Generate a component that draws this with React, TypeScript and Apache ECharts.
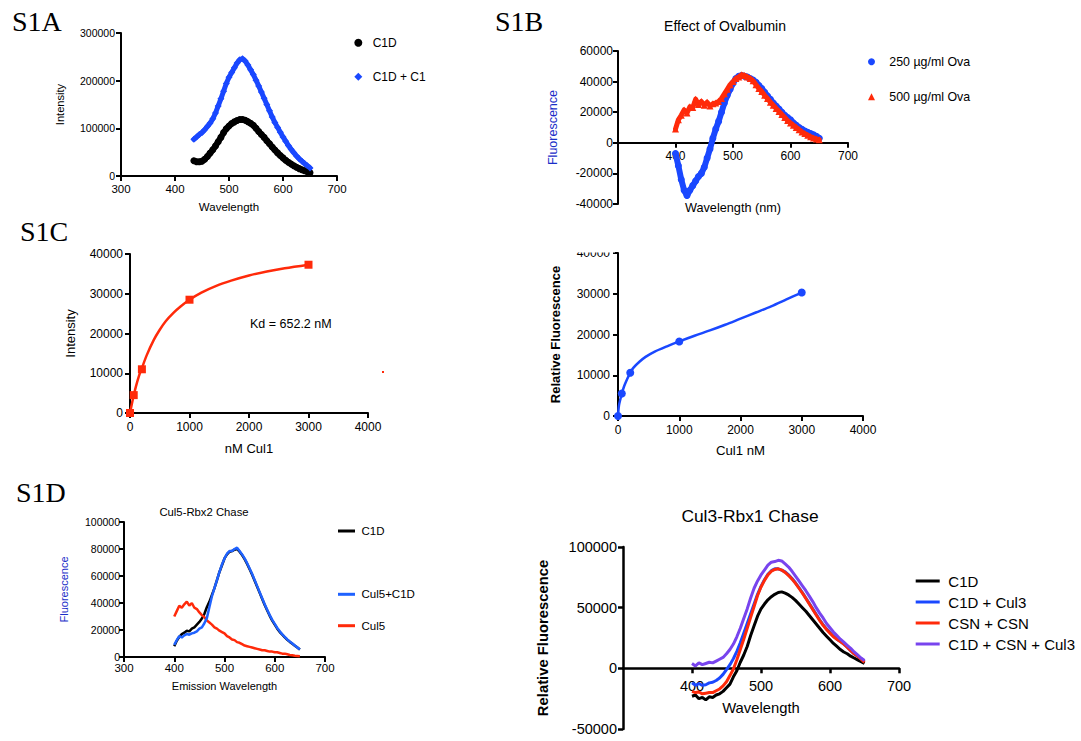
import React, { useEffect, useRef } from 'react';
import * as echarts from 'echarts';

const FONT = '"Liberation Sans", Arial, Helvetica, sans-serif';
const SERIF = '"Liberation Serif", "Times New Roman", serif';

// wavelengths (nm)
const WL = [400,405,410,415,420,425,430,435,440,445,450,455,460,465,470,475,480,485,490,495,500,505,510,515,520,525,530,535,540,545,550,555,560,565,570,575,580,585,590,595,600,605,610,615,620,625,630,635,640,645,650];
const WL_A = [435,440,445,450,455,460,465,470,475,480,485,490,495,500,505,510,515,520,525,530,535,540,545,550,555,560,565,570,575,580,585,590,595,600,605,610,615,620,625,630,635,640,645,650];

// S1A
const A_C1D = [32000,30000,30000,31000,35000,41000,48000,55000,63000,72000,
  81000,91000,99000,105000,110000,113500,116500,118500,118500,117000,
  114000,110500,106500,100000,93500,87000,81000,74000,67500,61000,
  54500,48500,43000,38000,33000,29000,25000,21500,18500,15500,
  13000,11000,9000,7000];
const A_C1D_C1 = [77000,82000,87000,91000,97000,104000,111000,120000,132000,147000,
  162000,178000,194000,207000,217000,227000,237000,244000,246000,241000,
  233000,223000,213000,201000,189000,176000,163000,150000,137000,124000,
  112000,102000,92000,82000,73000,64000,56000,49000,42000,36000,
  31000,26000,21500,17000];

// S1B
const B_OVA250 = [-7000,-15000,-24000,-31000,-34500,-31000,-28000,-25000,-22000,-20000,
  -16000,-10000,-4000,3000,9000,14000,20000,26000,31000,35000,
  39000,42000,43500,44000,43500,43000,42000,41000,39500,37500,
  35500,33000,30500,28500,26000,24000,22000,20000,18000,16500,
  15000,13000,11500,10000,8800,7700,6800,6000,5200,4200,
  3000];
const B_OVA500 = [9000,15000,18000,21500,19500,23500,23000,28500,25000,27000,
  24500,26500,24000,25500,26000,27000,29000,32000,35000,38000,
  40000,42000,43000,44500,44000,43000,42000,40500,38000,35500,
  33500,31000,29000,26500,24500,22500,20500,18500,16500,14500,
  13000,11500,10000,8500,7000,6000,5000,4000,3200,2500,
  2000];

// S1C left (Intensity vs nM Cul1)
const C_X = [0, 62.5, 200, 1000, 3000];
const C_Y = [0, 4500, 11000, 28500, 37300];
const C_FIT_X = [0,30,62.5,100,150,200,280,400,500,600,730,850,1000,1200,1450,1700,2000,2300,2600,3000];
const C_FIT_Y = [0,2200,4400,6700,9300,11300,14500,18400,20950,23100,25200,26800,28500,30300,32000,33300,34600,35600,36400,37300];

// S1C right (Relative Fluorescence vs Cul1 nM)
const CR_X = [0, 62.5, 200, 1000, 3000];
const CR_Y = [0, 5500, 10600, 18300, 30300];
const CR_FIT_X = [0,15,40,62.5,100,150,200,250,350,450,600,800,1000,1250,1500,1750,2000,2250,2500,2750,3000];
const CR_FIT_Y = [0,2500,4200,5500,7300,9100,10600,11800,13300,14500,15800,17100,18300,19700,21000,22400,23900,25400,26900,28600,30300];

// S1D left (Cul5-Rbx2 Chase)
const D_C1D = [8000,12000,15000,17000,18000,19500,19000,21000,22000,24000,
  26000,28500,32000,37000,41000,46000,51000,57000,63000,68000,
  73000,76000,78000,78500,79500,80000,78000,75500,72500,69000,
  65000,61000,56500,52000,47500,43000,38500,34500,30500,27000,
  24000,21000,18500,16500,14500,12800,11200,9800,8400,7000,
  5500];
const D_CUL5_C1D = [9000,12500,15500,14500,16000,17000,16500,17500,18000,19000,
  21000,22000,25000,29000,37000,45000,51000,57000,63000,68500,
  73000,76500,78500,78500,80000,81000,78500,76000,73000,69500,
  65500,61500,57000,52500,48000,43500,39000,35000,31000,27500,
  24500,21500,19000,16800,14800,13000,11400,10000,8500,7000,
  5500];
const D_CUL5 = [30000,34000,38000,36500,39000,41000,38000,40000,36500,35500,
  33000,31000,29500,27000,25500,24000,22000,21000,19500,18500,
  17500,15500,14500,13000,12500,11000,10500,9500,8500,8000,
  7500,7000,6500,6000,5500,5000,5000,4500,4000,4000,
  3500,3500,3000,2500,2500,2000,1500,1300,1000,800,
  600];

// S1D right (Cul3-Rbx1 Chase)
const E_C1D = [-23000,-22000,-25000,-24000,-26000,-23500,-24000,-22000,-21000,-19000,
  -16000,-13000,-7000,-2000,5000,11000,18000,27000,35000,43000,
  49000,53000,56500,59000,61000,62500,63000,62000,60500,58500,
  56000,53000,50000,47000,43500,40000,36500,33000,29500,26500,
  23500,20500,18000,15500,13500,12000,10000,8500,7000,5500,
  4000];
const E_C1D_CUL3 = [-12000,-14000,-12500,-14000,-13500,-12000,-11500,-10000,-8000,-5000,
  -1000,3000,8000,14000,21000,29000,37000,45000,53000,61000,
  67500,73000,77500,80500,82000,82000,81000,79500,77000,74000,
  70500,66500,62500,58000,53500,49000,44500,40000,36000,32500,
  29500,26500,24000,22000,20000,17500,14500,12000,10000,8000,
  5500];
const E_CSN_CSN = [-19000,-20000,-19500,-21000,-20500,-20000,-20000,-18500,-17000,-14500,
  -11000,-6000,-500,7000,15500,24000,33000,42000,51000,60000,
  67000,72500,77000,80000,81500,82000,81000,79000,76500,73500,
  70000,66000,62000,57500,53000,48500,44000,39500,35500,32000,
  29000,26000,24000,22000,20000,17500,14500,12000,10000,7500,
  5000];
const E_C1D_CSN_CUL3 = [4000,2000,4500,3000,4000,5000,4500,6000,7500,9000,
  12000,15500,20000,26000,33000,41000,49000,58000,66000,72000,
  77000,81000,85000,87500,88000,89000,88500,86000,83500,80000,
  76000,72000,68000,64000,59500,55000,50000,45500,41500,37000,
  33500,30000,27000,24000,21500,19000,16500,13500,11000,8500,
  6500];

const BLACK = '#000000';
const BLUE = '#1a48ff';
const BLUE_D = '#1f62ff';
const RED = '#ff2a0a';
const PURPLE = '#7844ee';
const FL_BLUE = '#1a2ec8';

const pairs = (xs: number[], ys: number[]) => xs.map((x, i) => [x, ys[i]]);
const plain = (v: number) => String(v);
const legendName = (n: string) => n.split('|')[1];

function xAx(grid: number, min: number, max: number, interval: number, name: string, nameGap: number, nameSize: number, labelSize: number, margin: number, lw: number, offset = 0) {
  return {
    type: 'value', gridIndex: grid, min, max, interval, offset,
    name, nameLocation: 'middle', nameGap,
    nameTextStyle: { fontSize: nameSize, fontFamily: FONT, color: '#000' },
    axisLine: { show: true, onZero: false, lineStyle: { color: '#000', width: lw } },
    axisTick: { show: true, length: 5, lineStyle: { color: '#000', width: lw } },
    axisLabel: { fontSize: labelSize, fontFamily: FONT, color: '#000', margin, formatter: plain, showMinLabel: offset === 0 },
    splitLine: { show: false },
  };
}
function yAx(grid: number, min: number, max: number, interval: number, name: string, nameGap: number, nameSize: number, labelSize: number, margin: number, lw: number, nameColor = '#000', bold = false) {
  return {
    type: 'value', gridIndex: grid, min, max, interval,
    name, nameLocation: 'middle', nameGap,
    nameTextStyle: { fontSize: nameSize, fontFamily: FONT, color: nameColor, fontWeight: bold ? 'bold' : 'normal' },
    axisLine: { show: true, onZero: false, lineStyle: { color: '#000', width: lw } },
    axisTick: { show: true, length: 5, lineStyle: { color: '#000', width: lw } },
    axisLabel: { fontSize: labelSize, fontFamily: FONT, color: '#000', margin, formatter: plain },
    splitLine: { show: false },
  };
}

export default function App() {
  const ref = useRef<HTMLDivElement>(null);
  useEffect(() => {
    if (!ref.current) return;
    const chart = echarts.init(ref.current, undefined, { renderer: 'svg' });
    const lineS = (name: string, idx: number, xs: number[], ys: number[], color: string, width: number, z = 2) => ({
      type: 'line', name, xAxisIndex: idx, yAxisIndex: idx, data: pairs(xs, ys),
      symbol: 'none', lineStyle: { color, width }, itemStyle: { color }, z,
    });
    // dense measured points: drawn as markers joined by a thick band of the same colour
    const dotS = (name: string, idx: number, xs: number[], ys: number[], color: string, symbol: string, size: number, band: number, z = 2) => ({
      type: 'line', name, xAxisIndex: idx, yAxisIndex: idx, data: pairs(xs, ys),
      symbol, symbolSize: size, showSymbol: true, showAllSymbol: true,
      lineStyle: { color, width: band, cap: 'round', join: 'round' }, itemStyle: { color, borderWidth: 0 }, z,
    });
    const scatS = (name: string, idx: number, xs: number[], ys: number[], color: string, symbol: string, size: number, z = 2) => ({
      type: 'scatter', name, xAxisIndex: idx, yAxisIndex: idx, data: pairs(xs, ys),
      symbol, symbolSize: size, itemStyle: { color, opacity: 1 }, z,
    });
    const legendBase = {
      orient: 'vertical', padding: 0, selectedMode: false, formatter: legendName,
    };
    const ts = (fontSize: number, lineHeight: number, padLeft: number) => ({
      fontSize, lineHeight, fontFamily: FONT, color: '#000', padding: [0, 0, 0, padLeft],
    });
    const option: any = {
      animation: false,
      backgroundColor: '#ffffff',
      textStyle: { fontFamily: FONT },
      title: [
        { text: 'Effect of Ovalbumin', left: 725, top: 17.7, padding: 0, textAlign: 'center', textStyle: { fontSize: 14, lineHeight: 16, fontWeight: 'normal', fontFamily: FONT, color: '#000' } },
        { text: 'Cul5-Rbx2 Chase', left: 204, top: 505.3, padding: 0, textAlign: 'center', textStyle: { fontSize: 11.3, lineHeight: 14, fontWeight: 'normal', fontFamily: FONT, color: '#000' } },
        { text: 'Cul3-Rbx1 Chase', left: 750, top: 505.7, padding: 0, textAlign: 'center', textStyle: { fontSize: 17.4, lineHeight: 20, fontWeight: 'normal', fontFamily: FONT, color: '#000' } },
      ],
      grid: [
        { left: 121, top: 33, width: 216, height: 143 },
        { left: 618, top: 51, width: 230, height: 153 },
        { left: 130, top: 254, width: 238, height: 159 },
        { left: 618, top: 253, width: 245, height: 163 },
        { left: 124, top: 522, width: 201, height: 135 },
        { left: 623, top: 547, width: 276, height: 182 },
      ],
      xAxis: [
        xAx(0, 300, 700, 100, 'Wavelength', 25, 11.5, 11.5, 7, 2),
        xAx(1, 300, 700, 100, 'Wavelength (nm)', 59, 12.7, 12, 7, 2, -61.2),
        xAx(2, 0, 4000, 1000, 'nM Cul1', 29, 13, 12, 8, 2),
        xAx(3, 0, 4000, 1000, 'Cul1 nM', 28, 13.2, 12, 8, 2),
        xAx(4, 300, 700, 100, 'Emission Wavelength', 23.5, 11, 11.5, 5, 2),
        xAx(5, 300, 700, 100, 'Wavelength', 32.6, 14.8, 14.5, 10, 2.5, -60.7),
      ],
      yAxis: [
        yAx(0, 0, 300000, 100000, 'Intensity', 55.5, 11.1, 10.5, 6, 2),
        yAx(1, -40000, 60000, 20000, 'Fluorescence', 58.4, 12.5, 12, 5, 2, FL_BLUE),
        yAx(2, 0, 40000, 10000, 'Intensity', 53.5, 13, 12, 7, 2),
        yAx(3, 0, 40000, 10000, 'Relative Fluorescence', 56.5, 13, 12, 8, 2, '#000', true),
        yAx(4, 0, 100000, 20000, 'Fluorescence', 54.2, 11, 10.5, 4, 2, FL_BLUE),
        yAx(5, -50000, 100000, 50000, 'Relative Fluorescence', 72.3, 14.8, 14.5, 6, 2.5, '#000', true),
      ],
      legend: [
        { ...legendBase, data: [{ name: 'A|C1D', icon: 'circle' }, { name: 'A|C1D + C1', icon: 'diamond' }], left: 354.3, top: 35.7, itemWidth: 8, itemHeight: 8, itemGap: 20, textStyle: ts(12, 14, 5.4) },
        { ...legendBase, data: [{ name: 'B|250 µg/ml Ova', icon: 'circle' }, { name: 'B|500 µg/ml Ova', icon: 'triangle' }], left: 868, top: 54.7, itemWidth: 7, itemHeight: 7, itemGap: 21, textStyle: ts(12.4, 14, 9.3) },
        { ...legendBase, data: [{ name: 'D|C1D', icon: 'rect' }], left: 338, top: 524, itemWidth: 17, itemHeight: 3, textStyle: ts(11.5, 14, 1.5) },
        { ...legendBase, data: [{ name: 'D|Cul5+C1D', icon: 'rect' }, { name: 'D|Cul5', icon: 'rect' }], left: 338, top: 587.3, itemWidth: 17, itemHeight: 3, itemGap: 17.4, textStyle: ts(11.5, 14, 1.5) },
        { ...legendBase, data: [{ name: 'E|C1D', icon: 'rect' }, { name: 'E|C1D + Cul3', icon: 'rect' }, { name: 'E|CSN + CSN', icon: 'rect' }, { name: 'E|C1D + CSN + Cul3', icon: 'rect' }], left: 915.7, top: 572, itemWidth: 24, itemHeight: 3, itemGap: 3, textStyle: ts(15, 18, 3.6) },
      ],
      series: [
        dotS('A|C1D', 0, WL_A, A_C1D, BLACK, 'circle', 7, 6),
        dotS('A|C1D + C1', 0, WL_A, A_C1D_C1, BLUE, 'diamond', 7, 5),
        dotS('B|250 µg/ml Ova', 1, WL, B_OVA250, BLUE, 'circle', 7, 6),
        dotS('B|500 µg/ml Ova', 1, WL, B_OVA500, RED, 'triangle', 7, 5, 3),
        { ...lineS('C|fit', 2, C_FIT_X, C_FIT_Y, RED, 2.5), smooth: 0.3 },
        scatS('C|data', 2, C_X, C_Y, RED, 'rect', 8, 3),
        { ...lineS('CR|fit', 3, CR_FIT_X, CR_FIT_Y, BLUE, 2.5), smooth: 0.3 },
        scatS('CR|data', 3, CR_X, CR_Y, BLUE, 'circle', 8, 3),
        lineS('D|C1D', 4, WL, D_C1D, BLACK, 2.5, 2),
        lineS('D|Cul5', 4, WL, D_CUL5, RED, 2.5, 3),
        lineS('D|Cul5+C1D', 4, WL, D_CUL5_C1D, BLUE_D, 2.5, 4),
        lineS('E|C1D', 5, WL, E_C1D, BLACK, 3, 2),
        lineS('E|C1D + Cul3', 5, WL, E_C1D_CUL3, BLUE, 3, 3),
        lineS('E|CSN + CSN', 5, WL, E_CSN_CSN, RED, 3, 4),
        lineS('E|C1D + CSN + Cul3', 5, WL, E_C1D_CSN_CUL3, PURPLE, 3, 5),
      ],
      graphic: [
        { type: 'text', x: 12, y: 21.5, style: { text: 'S1A', fontSize: 28, fontFamily: SERIF, fill: '#000', verticalAlign: 'middle' } },
        { type: 'text', x: 495, y: 21.5, style: { text: 'S1B', fontSize: 28, fontFamily: SERIF, fill: '#000', verticalAlign: 'middle' } },
        { type: 'text', x: 20, y: 231, style: { text: 'S1C', fontSize: 28, fontFamily: SERIF, fill: '#000', verticalAlign: 'middle' } },
        { type: 'text', x: 16, y: 492, style: { text: 'S1D', fontSize: 28, fontFamily: SERIF, fill: '#000', verticalAlign: 'middle' } },
        { type: 'text', x: 250, y: 324, style: { text: 'Kd = 652.2 nM', fontSize: 12.5, fontFamily: FONT, fill: '#000', verticalAlign: 'middle' } },
        { type: 'rect', shape: { x: 382, y: 371, width: 2, height: 2 }, style: { fill: RED } },
        { type: 'rect', z: 100, shape: { x: 560, y: 238, width: 55, height: 14.5 }, style: { fill: '#ffffff' } },
      ],
    };
    chart.setOption(option);
    return () => chart.dispose();
  }, []);
  return <div ref={ref} style={{ position: 'absolute', left: 0, top: 0, width: 1081, height: 741, background: '#fff' }} />;
}
